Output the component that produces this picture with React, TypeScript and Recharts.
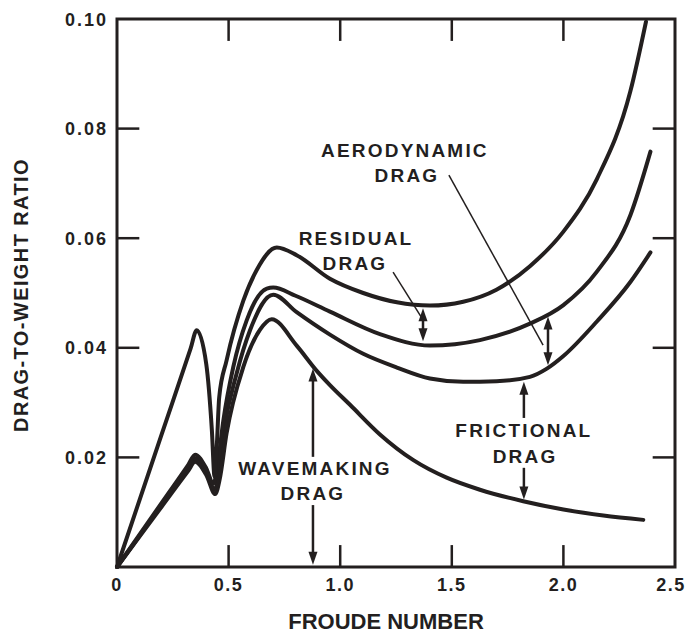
import React from "react";
import {
  LineChart,
  Line,
  XAxis,
  YAxis,
  ReferenceLine,
  ReferenceArea,
  ReferenceDot,
} from "recharts";

// ─── DATA (each curve is cumulative) ────────────────────────────────────────

// wavemaking drag
const FROUDE_WAVE = [0, 0.2, 0.32, 0.35, 0.4, 0.44, 0.46, 0.491, 0.566, 0.641, 0.693, 0.805, 0.895, 0.954, 1.044, 1.178, 1.328, 1.477, 1.626, 1.82, 2.0, 2.179, 2.358];
const DRAG_WAVE = [0, 0.011, 0.0176, 0.0192, 0.0168, 0.0133, 0.016, 0.0244, 0.0365, 0.0433, 0.0452, 0.0404, 0.0358, 0.0332, 0.0296, 0.0242, 0.0195, 0.0163, 0.0141, 0.012, 0.0105, 0.0094, 0.0086];

// + frictional drag
const FROUDE_FRIC = [0, 0.2, 0.32, 0.35, 0.4, 0.437, 0.455, 0.48, 0.536, 0.596, 0.7, 0.805, 0.954, 1.103, 1.254, 1.402, 1.551, 1.7, 1.85, 1.926, 2.0, 2.15, 2.3, 2.39];
const DRAG_FRIC = [0, 0.0113, 0.0181, 0.0198, 0.0174, 0.0142, 0.0165, 0.025, 0.0353, 0.0432, 0.0497, 0.0465, 0.0424, 0.0389, 0.0364, 0.0344, 0.0338, 0.0339, 0.0347, 0.0362, 0.0385, 0.0448, 0.052, 0.0574];

// + aerodynamic drag
const FROUDE_AERO = [0, 0.2, 0.32, 0.35, 0.4, 0.432, 0.452, 0.476, 0.521, 0.581, 0.671, 0.7, 0.8, 0.954, 1.178, 1.402, 1.626, 1.85, 2.0, 2.15, 2.3, 2.39];
const DRAG_AERO = [0, 0.0117, 0.0187, 0.0205, 0.018, 0.0152, 0.019, 0.0266, 0.0365, 0.045, 0.0508, 0.051, 0.0495, 0.0466, 0.0425, 0.0404, 0.0414, 0.0444, 0.0478, 0.0539, 0.0642, 0.0758];

// + residual drag (total)
const FROUDE_TOTAL = [0, 0.2, 0.33, 0.357, 0.4, 0.425, 0.437, 0.447, 0.458, 0.491, 0.566, 0.626, 0.716, 0.805, 0.954, 1.103, 1.254, 1.402, 1.551, 1.7, 1.85, 2.0, 2.15, 2.3, 2.37];
const DRAG_TOTAL = [0, 0.0242, 0.0399, 0.0432, 0.037, 0.025, 0.0165, 0.022, 0.031, 0.0377, 0.0486, 0.0542, 0.0583, 0.0569, 0.0526, 0.05, 0.0483, 0.0477, 0.0484, 0.0506, 0.0549, 0.0612, 0.0708, 0.0868, 0.0995];

const X_TICKS = [0, 0.5, 1, 1.5, 2, 2.5];
const X_TICK_LABELS = ["0", "0.5", "1.0", "1.5", "2.0", "2.5"];
const Y_TICKS = [0.02, 0.04, 0.06, 0.08, 0.1];
const Y_TICK_LABELS = ["0.02", "0.04", "0.06", "0.08", "0.10"];

// ─── STYLE ──────────────────────────────────────────────────────────────────

const INK = "#231f1f";
const FONT = "'Liberation Sans', Arial, Helvetica, sans-serif";
const X_MIN = 0;
const X_MAX = 2.5;
const Y_MIN = 0;
const Y_MAX = 0.1;
const TICK_LEN_X = 0.1; // inward tick length in data units (~22px)
const TICK_LEN_Y = 0.004;

const zip = (xs: number[], ys: number[]) => xs.map((x, i) => ({ x, y: ys[i] }));

const SERIES = [
  { name: "wavemaking", data: zip(FROUDE_WAVE, DRAG_WAVE) },
  { name: "frictional", data: zip(FROUDE_FRIC, DRAG_FRIC) },
  { name: "aerodynamic", data: zip(FROUDE_AERO, DRAG_AERO) },
  { name: "residual", data: zip(FROUDE_TOTAL, DRAG_TOTAL) },
];

// annotation text, anchored in data coordinates (baseline centre)
const NOTES = [
  { text: "AERODYNAMIC", x: 1.29, y: 0.0748 },
  { text: "DRAG", x: 1.299, y: 0.0703 },
  { text: "RESIDUAL", x: 1.071, y: 0.0588 },
  { text: "DRAG", x: 1.066, y: 0.0542 },
  { text: "FRICTIONAL", x: 1.823, y: 0.0237 },
  { text: "DRAG", x: 1.828, y: 0.019 },
  { text: "WAVEMAKING", x: 0.887, y: 0.0168 },
  { text: "DRAG", x: 0.878, y: 0.0122 },
];

// arrows and leader lines
const ARROWS = [
  { from: { x: 0.878, y: 0.0201 }, to: { x: 0.878, y: 0.0362 }, heads: "end", w: 2.5 },
  { from: { x: 0.878, y: 0.0113 }, to: { x: 0.878, y: 0.0004 }, heads: "end", w: 2.5 },
  { from: { x: 1.823, y: 0.0272 }, to: { x: 1.823, y: 0.0338 }, heads: "end", w: 2.5 },
  { from: { x: 1.823, y: 0.0181 }, to: { x: 1.823, y: 0.0123 }, heads: "end", w: 2.5 },
  { from: { x: 1.371, y: 0.0412 }, to: { x: 1.371, y: 0.0472 }, heads: "both", w: 2.5 },
  { from: { x: 1.931, y: 0.0368 }, to: { x: 1.931, y: 0.0457 }, heads: "both", w: 2.5 },
  { from: { x: 1.237, y: 0.0538 }, to: { x: 1.371, y: 0.0451 }, heads: "none", w: 1.5 },
  { from: { x: 1.487, y: 0.0715 }, to: { x: 1.909, y: 0.0405 }, heads: "none", w: 1.5 },
];

// ─── SHAPES ─────────────────────────────────────────────────────────────────

function headPoints(tx: number, ty: number, ux: number, uy: number) {
  const L = 13;
  const W = 4.5;
  const bx = tx - ux * L;
  const by = ty - uy * L;
  return `${tx},${ty} ${bx - uy * W},${by + ux * W} ${bx + uy * W},${by - ux * W}`;
}

function arrowShape(heads: string, w: number) {
  return (p: any) => {
    const { x1, y1, x2, y2 } = p;
    const dx = x2 - x1;
    const dy = y2 - y1;
    const len = Math.hypot(dx, dy) || 1;
    const ux = dx / len;
    const uy = dy / len;
    const cutEnd = heads === "none" ? 0 : 8;
    const cutStart = heads === "both" ? 8 : 0;
    return (
      <g>
        <line
          x1={x1 + ux * cutStart}
          y1={y1 + uy * cutStart}
          x2={x2 - ux * cutEnd}
          y2={y2 - uy * cutEnd}
          stroke={INK}
          strokeWidth={w}
        />
        {heads !== "none" && <polygon points={headPoints(x2, y2, ux, uy)} fill={INK} />}
        {heads === "both" && <polygon points={headPoints(x1, y1, -ux, -uy)} fill={INK} />}
      </g>
    );
  };
}

function noteShape(text: string) {
  return (p: any) => (
    <text
      x={p.cx}
      y={p.cy}
      textAnchor="middle"
      fill={INK}
      fontFamily={FONT}
      fontWeight="bold"
      fontSize={19}
      letterSpacing={2.2}
    >
      {text}
    </text>
  );
}

function XTick({ x, y, payload }: any) {
  const i = X_TICKS.indexOf(payload.value);
  // the last label sits against the page edge, pull it in a little
  const shift = i === X_TICKS.length - 1 ? -4 : 0;
  return (
    <text
      x={x}
      y={y}
      dx={shift}
      dy={24}
      textAnchor="middle"
      fill={INK}
      fontFamily={FONT}
      fontWeight="bold"
      fontSize={18}
      letterSpacing={1.5}
    >
      {i >= 0 ? X_TICK_LABELS[i] : payload.value}
    </text>
  );
}

function YTick({ x, y, payload }: any) {
  const i = Y_TICKS.indexOf(payload.value);
  return (
    <text
      x={x}
      y={y}
      dx={-9}
      dy={6.5}
      textAnchor="end"
      fill={INK}
      fontFamily={FONT}
      fontWeight="bold"
      fontSize={18}
      letterSpacing={2}
    >
      {i >= 0 ? Y_TICK_LABELS[i] : payload.value}
    </text>
  );
}

// ─── CHART ──────────────────────────────────────────────────────────────────

export default function App() {
  const innerX = X_TICKS.filter((v) => v > X_MIN && v < X_MAX);
  const innerY = Y_TICKS.filter((v) => v > Y_MIN && v < Y_MAX);

  return (
    <div
      style={{
        position: "absolute",
        left: 0,
        top: 0,
        width: 686,
        height: 637,
        background: "#ffffff",
        overflow: "hidden",
      }}
    >
      <LineChart
        width={686}
        height={637}
        margin={{ top: 19, right: 11, bottom: 20, left: 37 }}
      >
        <XAxis
          dataKey="x"
          type="number"
          domain={[X_MIN, X_MAX]}
          ticks={X_TICKS}
          interval={0}
          tickLine={false}
          axisLine={false}
          tickSize={0}
          tickMargin={0}
          height={50}
          tick={<XTick />}
        />
        <YAxis
          type="number"
          domain={[Y_MIN, Y_MAX]}
          ticks={Y_TICKS}
          interval={0}
          tickLine={false}
          axisLine={false}
          tickSize={0}
          tickMargin={0}
          width={80}
          tick={<YTick />}
        />

        {/* frame */}
        <ReferenceArea
          x1={X_MIN}
          x2={X_MAX}
          y1={Y_MIN}
          y2={Y_MAX}
          fill="none"
          fillOpacity={0}
          stroke={INK}
          strokeWidth={3}
        />

        {/* inward ticks on all four sides */}
        {innerX.map((v) => (
          <ReferenceLine
            key={`xb${v}`}
            segment={[{ x: v, y: Y_MIN }, { x: v, y: Y_MIN + TICK_LEN_Y }]}
            stroke={INK}
            strokeWidth={2.5}
          />
        ))}
        {innerX.map((v) => (
          <ReferenceLine
            key={`xt${v}`}
            segment={[{ x: v, y: Y_MAX }, { x: v, y: Y_MAX - TICK_LEN_Y }]}
            stroke={INK}
            strokeWidth={2.5}
          />
        ))}
        {innerY.map((v) => (
          <ReferenceLine
            key={`yl${v}`}
            segment={[{ x: X_MIN, y: v }, { x: X_MIN + TICK_LEN_X, y: v }]}
            stroke={INK}
            strokeWidth={2.5}
          />
        ))}
        {innerY.map((v) => (
          <ReferenceLine
            key={`yr${v}`}
            segment={[{ x: X_MAX, y: v }, { x: X_MAX - TICK_LEN_X, y: v }]}
            stroke={INK}
            strokeWidth={2.5}
          />
        ))}

        {SERIES.map((s) => (
          <Line
            key={s.name}
            data={s.data}
            dataKey="y"
            type="monotone"
            stroke={INK}
            strokeWidth={4}
            strokeLinecap="round"
            dot={false}
            activeDot={false}
            isAnimationActive={false}
          />
        ))}

        {ARROWS.map((a, i) => (
          <ReferenceLine
            key={`ar${i}`}
            segment={[a.from, a.to]}
            shape={arrowShape(a.heads, a.w)}
          />
        ))}

        {NOTES.map((n, i) => (
          <ReferenceDot
            key={`nt${i}`}
            x={n.x}
            y={n.y}
            r={0}
            shape={noteShape(n.text)}
          />
        ))}
      </LineChart>

      {/* axis titles */}
      <div
        style={{
          position: "absolute",
          left: 386 - 150,
          top: 611,
          width: 300,
          textAlign: "center",
          fontFamily: FONT,
          fontWeight: "bold",
          fontSize: 22,
          lineHeight: "22px",
          color: INK,
          whiteSpace: "nowrap",
        }}
      >
        FROUDE NUMBER
      </div>
      <div
        style={{
          position: "absolute",
          left: 21 - 160,
          top: 295 - 10,
          width: 320,
          textAlign: "center",
          fontFamily: FONT,
          fontWeight: "bold",
          fontSize: 20,
          lineHeight: "20px",
          letterSpacing: 1.4,
          color: INK,
          whiteSpace: "nowrap",
          transform: "rotate(-90deg)",
        }}
      >
        DRAG-TO-WEIGHT RATIO
      </div>
    </div>
  );
}
